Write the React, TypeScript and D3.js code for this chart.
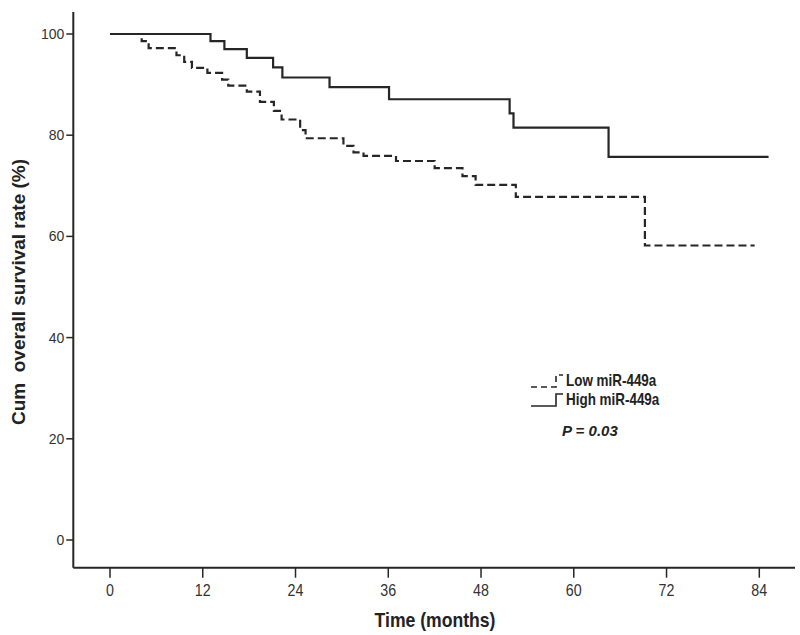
import { useEffect, useRef } from 'react';
import * as d3 from 'd3';

// Kaplan-Meier steps (months, % surviving)
const highTime = [0, 13.0, 14.8, 17.7, 21.1, 22.3, 28.4, 36.1, 51.7, 52.2, 64.5, 85.2];
const highSurv = [100, 98.6, 97.0, 95.3, 93.4, 91.4, 89.5, 87.1, 84.3, 81.5, 75.7, 75.7];

const lowTime = [0, 4.1, 5.0, 8.6, 9.6, 10.6, 12.6, 14.5, 15.3, 17.7, 19.4, 21.2, 22.2, 24.6, 25.3, 30.2, 31.5, 32.8, 37.0, 42.0, 45.6, 47.3, 52.5, 69.2, 83.4];
const lowSurv = [100, 98.6, 97.2, 95.8, 94.5, 93.3, 92.3, 91.0, 89.8, 88.6, 86.6, 84.8, 83.1, 81.0, 79.4, 77.9, 76.6, 75.9, 74.9, 73.5, 71.9, 70.2, 67.8, 58.2, 58.2];

const xTicks = [0, 12, 24, 36, 48, 60, 72, 84];
const yTicks = [0, 20, 40, 60, 80, 100];

const legendLabels = ['Low miR-449a', 'High miR-449a'];
const pText = 'P = 0.03';

// no narrow font installed, so squeeze the regular one
const narrow = '"Liberation Sans Narrow", "Arial Narrow", "Liberation Sans", sans-serif';
const squeeze = 0.84;

export default function App() {
  const svgRef = useRef<SVGSVGElement>(null);
  const width = 800;
  const height = 635;

  useEffect(() => {
    const svg = d3.select(svgRef.current);
    svg.selectAll('*').remove();

    const x = d3.scaleLinear().domain([0, 84]).range([110, 759.3]);
    const y = d3.scaleLinear().domain([0, 100]).range([540, 34]);

    const axisX = 73.3;
    const axisY = 567.7;
    const ink = '#262626';

    // axes frame
    svg.append('line')
      .attr('x1', axisX).attr('x2', axisX)
      .attr('y1', 12).attr('y2', axisY)
      .attr('stroke', ink).attr('stroke-width', 2);
    svg.append('line')
      .attr('x1', axisX).attr('x2', 795)
      .attr('y1', axisY).attr('y2', axisY)
      .attr('stroke', ink).attr('stroke-width', 2);

    yTicks.forEach(t => {
      svg.append('line')
        .attr('x1', axisX - 7).attr('x2', axisX)
        .attr('y1', y(t)).attr('y2', y(t))
        .attr('stroke', ink).attr('stroke-width', 1.5);
      svg.append('text')
        .attr('x', axisX - 9)
        .attr('y', y(t))
        .attr('text-anchor', 'end')
        .attr('dominant-baseline', 'central')
        .attr('fill', '#333')
        .style('font-family', '"Liberation Sans", Arial, sans-serif')
        .style('font-size', '14px')
        .text(t);
    });

    xTicks.forEach(t => {
      svg.append('line')
        .attr('x1', x(t)).attr('x2', x(t))
        .attr('y1', axisY).attr('y2', axisY + 10)
        .attr('stroke', ink).attr('stroke-width', 1.5);
      svg.append('text')
        .attr('transform', `translate(${x(t)},${axisY + 28}) scale(${squeeze},1)`)
        .attr('text-anchor', 'middle')
        .attr('fill', '#333')
        .style('font-family', narrow)
        .style('font-size', '17px')
        .text(t);
    });

    svg.append('text')
      .attr('transform', `translate(435,627) scale(0.88,1)`)
      .attr('text-anchor', 'middle')
      .attr('fill', '#222')
      .style('font-family', narrow)
      .style('font-weight', 'bold')
      .style('font-size', '20px')
      .text('Time (months)');

    svg.append('text')
      .attr('transform', 'translate(25,292) rotate(-90)')
      .attr('text-anchor', 'middle')
      .attr('fill', '#222')
      .style('font-family', '"Liberation Sans", Arial, sans-serif')
      .style('font-weight', 'bold')
      .style('font-size', '19px')
      .style('white-space', 'pre')
      .text('Cum  overall survival rate (%)');

    const line = d3.line<[number, number]>()
      .x(d => x(d[0]))
      .y(d => y(d[1]))
      .curve(d3.curveStepAfter);

    const highPts = highTime.map((t, i) => [t, highSurv[i]] as [number, number]);
    const lowPts = lowTime.map((t, i) => [t, lowSurv[i]] as [number, number]);

    svg.append('path')
      .attr('d', line(lowPts))
      .attr('fill', 'none')
      .attr('stroke', ink)
      .attr('stroke-width', 2.2)
      .attr('stroke-dasharray', '8,4');

    svg.append('path')
      .attr('d', line(highPts))
      .attr('fill', 'none')
      .attr('stroke', ink)
      .attr('stroke-width', 2.2);

    // legend
    const legendX = 531;
    const legendY = [381, 400];
    legendLabels.forEach((label, i) => {
      const ly = legendY[i];
      svg.append('path')
        .attr('d', `M${legendX},${ly + 6}H${legendX + 25}V${ly - 6}H${legendX + 32}`)
        .attr('fill', 'none')
        .attr('stroke', ink)
        .attr('stroke-width', 1.6)
        .attr('stroke-dasharray', i === 0 ? '6,4' : null);
      svg.append('text')
        .attr('transform', `translate(${legendX + 35},${ly}) scale(${squeeze},1)`)
        .attr('dominant-baseline', 'central')
        .attr('fill', '#222')
        .style('font-family', narrow)
        .style('font-weight', 'bold')
        .style('font-size', '16px')
        .text(label);
    });

    svg.append('text')
      .attr('x', 562)
      .attr('y', 436)
      .attr('fill', '#222')
      .style('font-family', '"Liberation Sans", Arial, sans-serif')
      .style('font-weight', 'bold')
      .style('font-style', 'italic')
      .style('font-size', '15px')
      .style('white-space', 'pre')
      .text(pText);
  }, []);

  return (
    <svg
      ref={svgRef}
      width={width}
      height={height}
      style={{ position: 'absolute', left: 0, top: 0, background: '#fff' }}
    />
  );
}
